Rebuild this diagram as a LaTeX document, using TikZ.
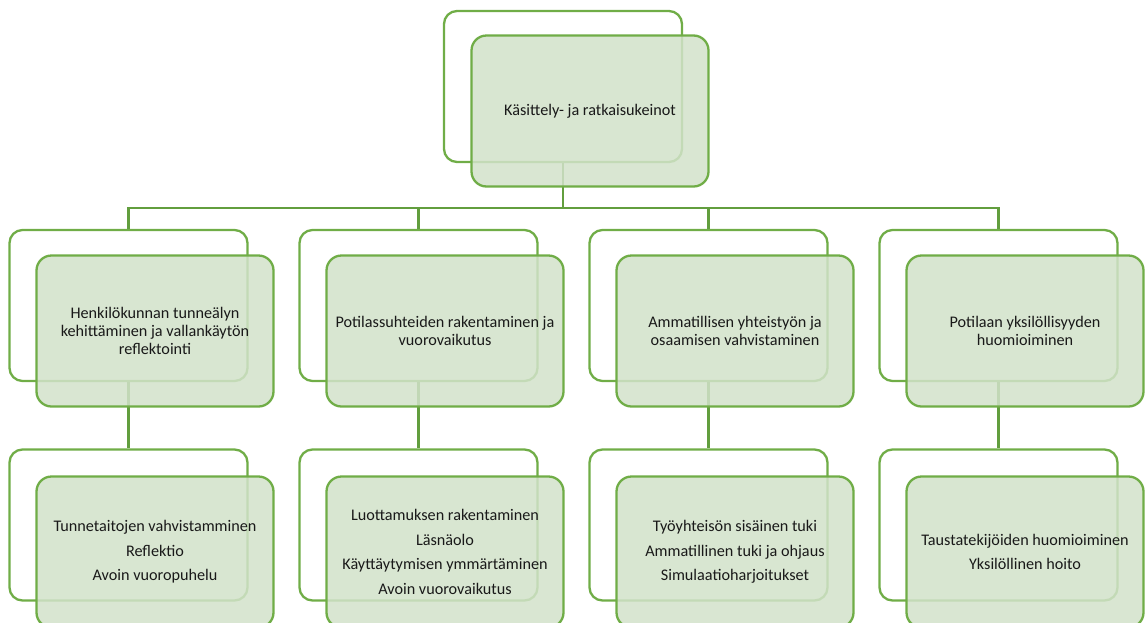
\documentclass[tikz,border=0pt]{standalone}
\usepackage{fontspec}
\setmainfont{Carlito}
\definecolor{bordc}{RGB}{112,173,71}
\definecolor{connc}{RGB}{98,158,62}
\definecolor{fillc}{RGB}{210,226,202}
\definecolor{txtc}{RGB}{25,25,25}
\tikzset{
  backbox/.style={draw=bordc, line width=2.3pt, fill=white, rounded corners=13pt,
    minimum width=238pt, minimum height=151pt, inner sep=0pt},
  frontbox/.style={draw=bordc, line width=2.3pt, fill=fillc, fill opacity=0.85, draw opacity=1,
    text opacity=1, rounded corners=15pt, minimum width=237pt, minimum height=151pt,
    inner sep=0pt, align=center, text=txtc, font=\fontsize{16.2}{17.8}\selectfont},
  lowbox/.style={frontbox, font=\fontsize{16.2}{24.5}\selectfont},
  conn/.style={draw=connc, line width=2.3pt}
}
\begin{document}
\begin{tikzpicture}[x=1pt,y=-1pt]
\useasboundingbox (0,0) rectangle (1145,622);
% back boxes
\node[backbox] (tb) at (563,86.5) {};
\foreach \i/\x in {1/128.5,2/418.5,3/708.5,4/998.5}{
  \node[backbox] (b\i) at (\x,305.5) {};
  \node[backbox] (c\i) at (\x,525) {};
}
% connectors
\coordinate (bus) at (563,208);
\draw[conn] (tb.south) -- (tb.south |- bus);
\draw[conn] (b1.north) -- (b1.north |- bus) -- (b4.north |- bus) -- (b4.north);
\draw[conn] (b2.north) -- (b2.north |- bus);
\draw[conn] (b3.north) -- (b3.north |- bus);
\foreach \i in {1,2,3,4}{
  \draw[conn] (b\i.south) -- (c\i.north);
}
% front boxes
\node[frontbox] (tf) at (590,111) {Käsittely- ja ratkaisukeinot};
\node[frontbox] (f1) at (155,331) {Henkilökunnan tunneälyn\\kehittäminen ja vallankäytön\\reflektointi};
\node[frontbox] (f2) at (445,331) {Potilassuhteiden rakentaminen ja\\vuorovaikutus};
\node[frontbox] (f3) at (735,331) {Ammatillisen yhteistyön ja\\osaamisen vahvistaminen};
\node[frontbox] (f4) at (1025,331) {Potilaan yksilöllisyyden\\huomioiminen};
\node[lowbox] (g1) at (155,552) {Tunnetaitojen vahvistamminen\\Reflektio\\Avoin vuoropuhelu};
\node[lowbox] (g2) at (445,552) {Luottamuksen rakentaminen\\Läsnäolo\\Käyttäytymisen ymmärtäminen\\Avoin vuorovaikutus};
\node[lowbox] (g3) at (735,552) {Työyhteisön sisäinen tuki\\Ammatillinen tuki ja ohjaus\\Simulaatioharjoitukset};
\node[lowbox] (g4) at (1025,552) {Taustatekijöiden huomioiminen\\Yksilöllinen hoito};
\end{tikzpicture}
\end{document}
